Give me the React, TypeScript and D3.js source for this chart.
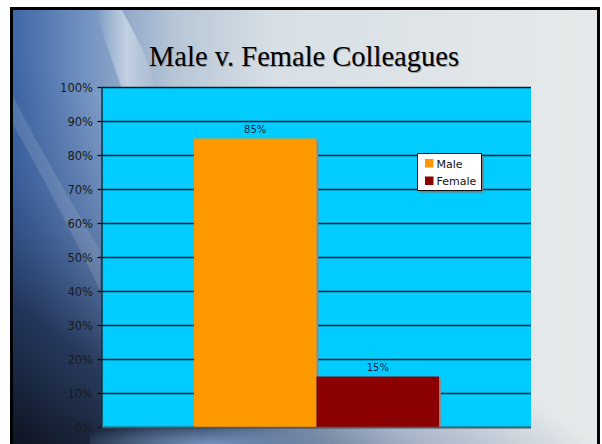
import React from "react";
import * as d3 from "d3";

const title = "Male v. Female Colleagues";
const seriesNames = ["Male", "Female"];
const seriesValues = [0.85, 0.15];
const seriesColors = ["#FF9900", "#8B0000"];
const yTicks = [0, 0.1, 0.2, 0.3, 0.4, 0.5, 0.6, 0.7, 0.8, 0.9, 1.0];

const W = 602;
const H = 444;
const plot = { left: 102, right: 531, top: 87.5, bottom: 427.5 };

export default function App() {
  const y = d3.scaleLinear().domain([0, 1]).range([plot.bottom, plot.top]);
  const x = d3
    .scaleBand<string>()
    .domain(seriesNames)
    .range([plot.left, plot.right])
    .paddingInner(0)
    .paddingOuter(0.75);
  const fmt = d3.format(".0%");
  const labelFont = "'DejaVu Sans', Verdana, sans-serif";

  return (
    <svg
      width={W}
      height={H}
      style={{ position: "absolute", left: 0, top: 0, display: "block" }}
    >
      <defs>
        <linearGradient id="bgH" x1="0" y1="0" x2="1" y2="0">
          <stop offset="0" stopColor="#3c66a6" />
          <stop offset="0.12" stopColor="#6f8fbf" />
          <stop offset="0.28" stopColor="#b7c6d6" />
          <stop offset="0.45" stopColor="#d8e0e6" />
          <stop offset="1" stopColor="#e5e9ea" />
        </linearGradient>
        <linearGradient
          id="bgDark"
          gradientUnits="userSpaceOnUse"
          x1="10"
          y1="444"
          x2="200"
          y2="170"
        >
          <stop offset="0" stopColor="#0e1420" stopOpacity="1" />
          <stop offset="0.35" stopColor="#1c2c4c" stopOpacity="0.85" />
          <stop offset="0.7" stopColor="#2c4a80" stopOpacity="0.3" />
          <stop offset="1" stopColor="#2c4a80" stopOpacity="0" />
        </linearGradient>
        <linearGradient id="streak" x1="0" y1="0" x2="1" y2="0">
          <stop offset="0" stopColor="#ffffff" stopOpacity="0" />
          <stop offset="0.5" stopColor="#ffffff" stopOpacity="0.45" />
          <stop offset="1" stopColor="#ffffff" stopOpacity="0" />
        </linearGradient>
        <radialGradient id="bottomWave" cx="0.5" cy="1" r="0.6">
          <stop offset="0" stopColor="#7a9cc8" stopOpacity="0.9" />
          <stop offset="1" stopColor="#7a9cc8" stopOpacity="0" />
        </radialGradient>
      </defs>

      {/* page white */}
      <rect x={0} y={0} width={W} height={H} fill="#ffffff" />
      {/* slide background */}
      <rect x={10} y={7} width={590} height={H} fill="url(#bgH)" />
      <rect x={10} y={7} width={590} height={H} fill="url(#bgDark)" />
      {/* light streaks */}
      <path
        d="M120,7 C150,60 170,100 150,160 C130,110 110,60 95,7 Z"
        fill="url(#streak)"
      />
      <path
        d="M10,120 C40,170 70,230 100,290 L100,250 C70,200 40,150 10,90 Z"
        fill="#ffffff"
        opacity={0.12}
      />
      <rect x={90} y={410} width={240} height={34} fill="url(#bottomWave)" />
      {/* slide border */}
      <rect
        x={11.5}
        y={8.5}
        width={587}
        height={H + 10}
        fill="none"
        stroke="#000"
        strokeWidth={3}
      />

      {/* title */}
      <text
        x={305}
        y={67}
        textAnchor="middle"
        fontFamily="'Liberation Serif', 'Times New Roman', serif"
        fontSize={28.5}
        fill="#9a9a9a"
      >
        {title}
      </text>
      <text
        x={304}
        y={66}
        textAnchor="middle"
        fontFamily="'Liberation Serif', 'Times New Roman', serif"
        fontSize={28.5}
        fill="#000"
      >
        {title}
      </text>

      {/* plot area */}
      <rect
        x={plot.left}
        y={plot.top}
        width={plot.right - plot.left}
        height={plot.bottom - plot.top}
        fill="#00CCFF"
      />
      {/* gridlines */}
      {yTicks.map((t) => (
        <line
          key={"g" + t}
          x1={plot.left}
          x2={plot.right}
          y1={y(t)}
          y2={y(t)}
          stroke="#0b1f2a"
          strokeWidth={1.3}
        />
      ))}

      {/* bars with shadow */}
      {seriesNames.map((s, i) => (
        <rect
          key={"sh" + s}
          x={(x(s) as number) + 2}
          y={y(seriesValues[i]) + 2}
          width={x.bandwidth()}
          height={plot.bottom - y(seriesValues[i]) - 2}
          fill="#7f8c92"
        />
      ))}
      {seriesNames.map((s, i) => (
        <rect
          key={"b" + s}
          x={x(s) as number}
          y={y(seriesValues[i])}
          width={x.bandwidth()}
          height={plot.bottom - y(seriesValues[i])}
          fill={seriesColors[i]}
        />
      ))}
      {/* data labels */}
      {seriesNames.map((s, i) => (
        <text
          key={"l" + s}
          x={(x(s) as number) + x.bandwidth() / 2}
          y={y(seriesValues[i]) - 6}
          textAnchor="middle"
          fontFamily={labelFont}
          fontSize={10}
          fill="#102838"
        >
          {fmt(seriesValues[i])}
        </text>
      ))}

      {/* axes */}
      <line
        x1={plot.left}
        x2={plot.left}
        y1={plot.top}
        y2={plot.bottom}
        stroke="#143040"
        strokeWidth={1.5}
      />
      <line
        x1={plot.left}
        x2={plot.right}
        y1={plot.bottom}
        y2={plot.bottom}
        stroke="#555d62"
        strokeWidth={1.5}
      />
      {yTicks.map((t) => (
        <g key={"t" + t}>
          <line
            x1={plot.left - 4.5}
            x2={plot.left}
            y1={y(t)}
            y2={y(t)}
            stroke="#111"
            strokeWidth={1.3}
          />
          <text
            x={93}
            y={y(t) + 4}
            textAnchor="end"
            fontFamily={labelFont}
            fontSize={11.5}
            fill="#1a1a1a"
          >
            {fmt(t)}
          </text>
        </g>
      ))}

      {/* legend */}
      <rect x={419.5} y={155.5} width={64} height={37} fill="#7a7a7a" />
      <rect
        x={417.5}
        y={153.5}
        width={64}
        height={37}
        fill="#ffffff"
        stroke="#111"
        strokeWidth={1}
      />
      {seriesNames.map((s, i) => (
        <g key={"lg" + s}>
          <rect
            x={425}
            y={159 + i * 17.5}
            width={8.5}
            height={8.5}
            fill={seriesColors[i]}
          />
          <text
            x={436.5}
            y={167.5 + i * 17.5}
            fontFamily={labelFont}
            fontSize={11}
            fill="#111"
          >
            {s}
          </text>
        </g>
      ))}
    </svg>
  );
}
